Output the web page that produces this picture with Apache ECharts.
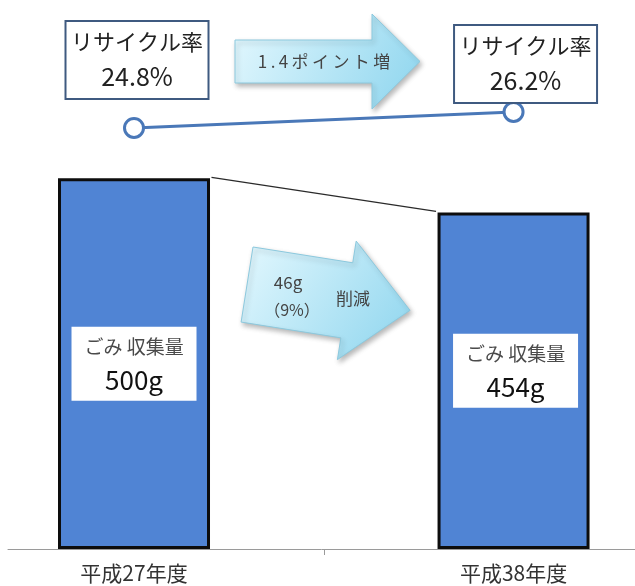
<!DOCTYPE html>
<html>
<head>
<meta charset="utf-8">
<script src="https://cdn.jsdelivr.net/npm/echarts@6/dist/echarts.min.js"></script>
<style>
  html, body { margin: 0; padding: 0; background: #ffffff; }
  #chart { width: 635px; height: 586px; }
</style>
</head>
<body>
<div id="chart"></div>
<script>
// Fiscal years compared
const categories = ['平成27年度', '平成38年度'];
// Waste collected per person per day (g)
const wasteGrams = [500, 454];
// Recycling rate (%)
const recycleRates = [24.8, 26.2];
// Text used in the boxes and arrows
const wasteTitle = 'ごみ 収集量';
const rateTitle = 'リサイクル率';
const rateArrowText = '1.4ポイント増';
const wasteArrowLines = ['46g', '（9%）'];
const wasteArrowWord = '削減';

const JP = '"Noto Sans CJK JP", "Noto Sans", sans-serif';
const BAR_W = 152;
const BAR_BORDER = 3;

// Block arrow outline, optionally tilted about its top-left corner
function arrowPoints(x0, y0, shaftLen, shaftH, extra, headLen, angleDeg) {
  const a = angleDeg * Math.PI / 180, c = Math.cos(a), s = Math.sin(a);
  const local = [
    [0, 0], [shaftLen, 0], [shaftLen, -extra], [shaftLen + headLen, shaftH / 2],
    [shaftLen, shaftH + extra], [shaftLen, shaftH], [0, shaftH]
  ];
  return local.map(([x, y]) => [x0 + x * c - y * s, y0 + x * s + y * c]);
}

function arrowFill() {
  return new echarts.graphic.LinearGradient(0, 0, 1, 1, [
    { offset: 0, color: '#e4f8fe' },
    { offset: 1, color: '#8dd5ee' }
  ]);
}

const arrowStyle = () => ({
  fill: arrowFill(),
  stroke: '#8cc9de',
  lineWidth: 1,
  shadowBlur: 5,
  shadowOffsetX: 2,
  shadowOffsetY: 3,
  shadowColor: 'rgba(0,0,0,0.28)'
});

// category positions along a numeric x axis: 0 and 1
const xIdx = categories.map((_, i) => i);

const chart = echarts.init(document.getElementById('chart'), null, { renderer: 'canvas' });

chart.setOption({
  animation: false,
  backgroundColor: '#ffffff',
  grid: { left: 8, right: 0, top: 30, bottom: 37, outerBoundsMode: 'none', containLabel: false },
  xAxis: {
    type: 'value',
    min: -0.332,
    max: 1.32,
    splitLine: { show: false },
    axisLine: { show: true, onZero: false, lineStyle: { color: '#9a9a9a', width: 1 } },
    axisTick: { show: true, length: 6, customValues: [0.5], lineStyle: { color: '#9a9a9a' } },
    axisLabel: {
      margin: 14, fontSize: 21, color: '#333333', fontFamily: JP,
      customValues: xIdx,
      formatter: v => categories[Math.round(v)] || ''
    }
  },
  yAxis: [
    { type: 'value', min: 0, max: 700, show: false, splitLine: { show: false } },
    { type: 'value', min: -12.04, max: 33.37, show: false, splitLine: { show: false } }
  ],
  series: [
    {
      type: 'bar',
      yAxisIndex: 0,
      barWidth: BAR_W,
      z: 2,
      itemStyle: { color: '#5084d4', borderColor: '#0d0d0d', borderWidth: BAR_BORDER },
      data: wasteGrams.map((v, i) => ({
        value: [xIdx[i], v],
        label: { offset: i === 0 ? [0, 0] : [2, -10] }
      })),
      label: {
        show: true,
        position: 'inside',
        backgroundColor: '#ffffff',
        width: 125,
        padding: [4, 0, 4, 0],
        align: 'center',
        formatter: p => '{t|' + wasteTitle + '}\n{v|' + p.value[1] + 'g}',
        rich: {
          t: { fontSize: 19, lineHeight: 32, color: '#4a4a4a', fontFamily: JP, align: 'center' },
          v: { fontSize: 26, lineHeight: 34, color: '#111111', fontFamily: JP, align: 'center' }
        }
      }
    },
    {
      // thin connector from the top of one bar to the next
      type: 'custom',
      yAxisIndex: 0,
      z: 3,
      silent: true,
      data: [[xIdx[0], wasteGrams[0], xIdx[1], wasteGrams[1]]],
      encode: { x: [0, 2], y: [1, 3] },
      renderItem: (params, api) => {
        const half = BAR_W / 2 + BAR_BORDER / 2;
        const p0 = api.coord([api.value(0), api.value(1)]);
        const p1 = api.coord([api.value(2), api.value(3)]);
        return {
          type: 'line',
          shape: { x1: p0[0] + half, y1: p0[1] - 1, x2: p1[0] - half, y2: p1[1] - 1 },
          style: { stroke: '#2a2a2a', lineWidth: 1.2 }
        };
      }
    },
    {
      type: 'line',
      yAxisIndex: 1,
      z: 5,
      symbol: 'circle',
      symbolSize: 19,
      lineStyle: { color: '#4a78b8', width: 3 },
      itemStyle: { color: '#ffffff', borderColor: '#4a78b8', borderWidth: 3 },
      data: recycleRates.map((v, i) => ({
        value: [xIdx[i], v],
        label: { offset: i === 0 ? [3, -19] : [12, 1] }
      })),
      label: {
        show: true,
        position: 'top',
        distance: 0,
        backgroundColor: '#ffffff',
        borderColor: '#3f5a80',
        borderWidth: 2,
        width: 141,
        padding: [3, 0, 3, 0],
        align: 'center',
        formatter: p => '{t|' + rateTitle + '}\n{v|' + p.value[1] + '%}',
        rich: {
          t: { fontSize: 22, lineHeight: 34, color: '#222222', fontFamily: JP, align: 'center' },
          v: { fontSize: 25, lineHeight: 36, color: '#222222', fontFamily: JP, align: 'center' }
        }
      }
    }
  ],
  graphic: [
    {
      type: 'polygon',
      z: 10,
      shape: { points: arrowPoints(235, 40, 137, 43, 26, 48, 0) },
      style: arrowStyle()
    },
    {
      type: 'text',
      z: 11,
      style: {
        text: rateArrowText.split('').join('\u2009'),
        x: 324, y: 62,
        font: '17px ' + JP,
        fill: '#444444',
        align: 'center',
        verticalAlign: 'middle'
      }
    },
    {
      type: 'polygon',
      z: 10,
      shape: { points: arrowPoints(253, 247, 101, 76, 22, 64, 9) },
      style: arrowStyle()
    },
    {
      type: 'text',
      z: 11,
      style: {
        text: wasteArrowLines[0],
        x: 288, y: 283,
        font: '17px ' + JP,
        fill: '#444444',
        align: 'center',
        verticalAlign: 'middle'
      }
    },
    {
      type: 'text',
      z: 11,
      style: {
        text: wasteArrowLines[1],
        x: 292, y: 310,
        font: '16px ' + JP,
        fill: '#444444',
        align: 'center',
        verticalAlign: 'middle'
      }
    },
    {
      type: 'text',
      z: 11,
      style: {
        text: wasteArrowWord,
        x: 353, y: 299,
        font: '17px ' + JP,
        fill: '#444444',
        align: 'center',
        verticalAlign: 'middle'
      }
    }
  ]
});
</script>
</body>
</html>
